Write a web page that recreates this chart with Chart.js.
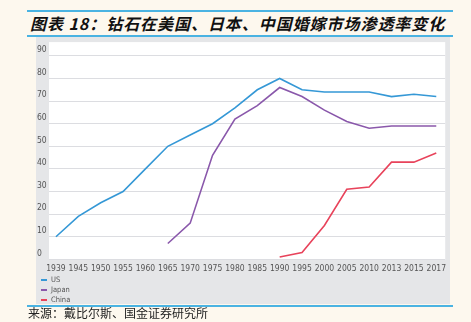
<!DOCTYPE html>
<html><head><meta charset="utf-8">
<script src="https://cdn.jsdelivr.net/npm/chart.js@4"></script>
<style>
html,body{margin:0;padding:0;}
body{width:471px;height:322px;background:#fdf8ee;position:relative;overflow:hidden;font-family:"Noto Sans CJK SC",sans-serif;}
#tl1,#tl2,#bl{position:absolute;left:27px;width:426px;height:2px;background:#4ab3e2;}
#tl1{top:10px;} #tl2{top:35px;} #bl{top:305px;}
#title{position:absolute;left:30px;top:11px;height:24px;line-height:24px;font-size:16px;font-weight:bold;font-style:italic;color:#111;white-space:nowrap;letter-spacing:0.95px;}
#panel{position:absolute;left:36px;top:37px;width:414px;height:267px;background:#e5e6e8;}
#cv{position:absolute;left:0;top:0;}
#legend{position:absolute;left:5px;top:238px;font-family:"Liberation Sans Narrow","DejaVu Sans Condensed",sans-serif;font-size:7.5px;color:#555;}
.li{height:10px;line-height:10px;display:flex;align-items:center;}
.sw{width:6px;height:2px;margin-right:4px;}
#source{position:absolute;left:28px;top:305px;height:16px;line-height:16px;font-size:12px;color:#222;white-space:nowrap;}
</style></head>
<body>
<div id="tl1"></div>
<div id="title">图表 18：钻石在美国、日本、中国婚嫁市场渗透率变化</div>
<div id="tl2"></div>
<div id="panel"><canvas id="cv" width="414" height="267"></canvas><div id="legend"></div></div>
<div id="bl"></div>
<div id="source">来源：戴比尔斯、国金证券研究所</div>
<script>
const categories = ["1939","1945","1950","1955","1960","1965","1970","1975","1980","1985","1990","1995","2000","2005","2010","2013","2015","2017"];
const usValues    = [10,19,25,30,40,50,55,60,67,75,80,75,74,74,74,72,73,72];
const japanValues = [null,null,null,null,null,7,16,46,62,68,76,72,66,61,58,59,59,59];
const chinaValues = [null,null,null,null,null,null,null,null,null,null,1,3,15,31,32,43,43,47];
const yTicks = [0,10,20,30,40,50,60,70,80,90];
const seriesNames = ["US","Japan","China"];
const seriesColors = ["#3598d6","#8a58ab","#e8435b"];

const toPts = arr => categories.map((c,i)=>({x:i,y:arr[i]}));
const datasets = [usValues,japanValues,chinaValues].map((arr,k)=>({
  label: seriesNames[k], data: toPts(arr), borderColor: seriesColors[k], backgroundColor: seriesColors[k],
  borderWidth: 1.6, pointRadius: 0, tension: 0, spanGaps: false, fill: false
}));

const whiteBg = {
  id:'whiteBg',
  beforeDraw(chart){
    const {ctx, chartArea:a} = chart;
    ctx.save(); ctx.fillStyle='#ffffff';
    ctx.fillRect(a.left, a.top, a.right-a.left, a.bottom-a.top);
    ctx.restore();
  }
};

const tickFont = {family:'"Liberation Sans Narrow","DejaVu Sans Condensed",sans-serif', size:8.5};

const chart = new Chart(document.getElementById('cv'), {
  type:'line',
  data:{datasets},
  options:{
    responsive:false, animation:false, devicePixelRatio:1,
    layout:{padding:{left:1,top:2,right:0,bottom:0}},
    plugins:{legend:{display:false}, tooltip:{enabled:false}},
    scales:{
      x:{type:'linear', min:-0.31, max:17.4,
        afterBuildTicks(s){ s.ticks = categories.map((c,i)=>({value:i})); },
        afterFit(s){ s.height = 44; },
        border:{display:false},
        grid:{display:false, drawTicks:false},
        ticks:{autoSkip:false, maxRotation:0, padding:4, color:'#555', font:tickFont,
          callback:(v)=>categories[v]}
      },
      y:{min:-0.3, max:96.1,
        afterBuildTicks(s){ s.ticks = yTicks.map(v=>({value:v})); },
        afterFit(s){ s.width = 12; },
        border:{display:false},
        grid:{color:'#dcdde1', lineWidth:1, drawTicks:false},
        ticks:{crossAlign:'far', padding:0, labelOffset:-6, color:'#555', font:tickFont}
      }
    }
  },
  plugins:[whiteBg]
});

const lg = document.getElementById('legend');
chart.data.datasets.forEach(ds=>{
  const d=document.createElement('div'); d.className='li';
  const s=document.createElement('span'); s.className='sw'; s.style.background=ds.borderColor;
  const t=document.createElement('span'); t.textContent=ds.label;
  d.appendChild(s); d.appendChild(t); lg.appendChild(d);
});
</script>
</body></html>
